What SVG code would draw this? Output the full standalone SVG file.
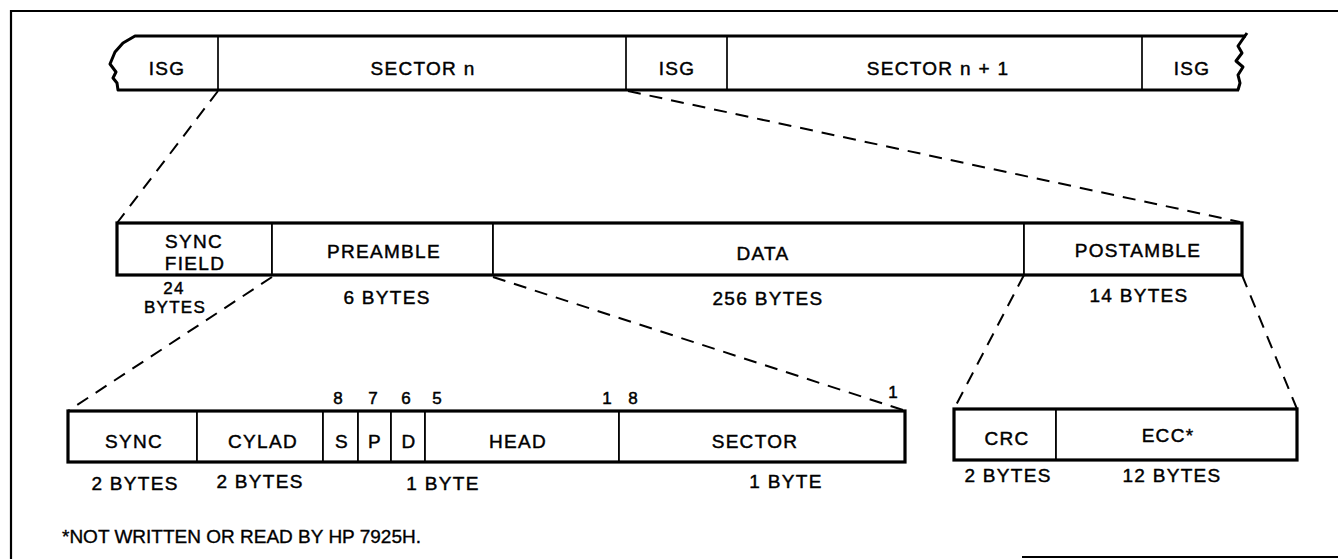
<svg xmlns="http://www.w3.org/2000/svg" width="1338" height="559" viewBox="0 0 1338 559">
<style>
.bg{fill:#fff}
.frame{fill:none;stroke:#000;stroke-width:2.2}
.cell{fill:#fff;stroke:#000;stroke-width:1.7}
.bar{fill:none;stroke:#000;stroke-width:3.2;stroke-linejoin:miter}
.wave{fill:none;stroke:#000;stroke-width:3;stroke-linejoin:round}
.t{font-family:"Liberation Sans",Arial,Helvetica,sans-serif;font-size:19px;letter-spacing:1.3px;fill:#000;stroke:#000;stroke-width:0.45;text-anchor:middle}
.s{font-size:17px}
.n{font-family:"Liberation Sans",Arial,Helvetica,sans-serif;font-size:17px;fill:#000;stroke:#000;stroke-width:0.5;text-anchor:middle}
.fn{font-family:"Liberation Sans",Arial,Helvetica,sans-serif;font-size:19px;fill:#000;stroke:#000;stroke-width:0.35}
.dash{fill:none;stroke:#000;stroke-width:2;stroke-dasharray:13 9}
</style>
<rect class="bg" x="0" y="0" width="1338" height="559"/>
<g id="frame">
<polyline class="frame" points="11,559 11,11 1338,11"/>
<line class="frame" x1="1022" y1="557" x2="1338" y2="557"/>
</g>

<g id="connectors">
<line class="dash" x1="218" y1="91" x2="117" y2="223"/>
<line class="dash" x1="628" y1="91" x2="1240" y2="222"/>
<line class="dash" x1="272" y1="277" x2="68" y2="411"/>
<line class="dash" x1="493" y1="277" x2="903" y2="410"/>
<line class="dash" x1="1024" y1="275" x2="954" y2="409"/>
<line class="dash" x1="1242" y1="275" x2="1297" y2="409"/>
</g>

<!-- Top track -->
<g id="track">
<path class="bg" d="M135,36 L1246,36 L1238,46 L1242,53 L1236,61 L1243,67 L1238,75 L1240,83 L1239,90 L118,90 L117,83 L113,78 L116,72 L110,64 L115,52 L123,43 Z"/>
<g id="isg1"><text class="t" x="167" y="75">ISG</text></g>
<g id="sector-n"><line class="cell" x1="218" y1="36" x2="218" y2="90"/><text class="t" x="423" y="75">SECTOR n</text></g>
<g id="isg2"><line class="cell" x1="626" y1="36" x2="626" y2="90"/><text class="t" x="677" y="75">ISG</text></g>
<g id="sector-n1"><line class="cell" x1="727" y1="36" x2="727" y2="90"/><text class="t" x="938" y="75">SECTOR n + 1</text></g>
<g id="isg3"><line class="cell" x1="1142" y1="36" x2="1142" y2="90"/><text class="t" x="1192" y="75">ISG</text></g>
<path class="wave" d="M1239,90 L118,90 L117,83 L113,78 L116,72 L110,64 L115,52 L123,43 L135,36 L1246,36"/>
<path class="wave" d="M1247,33 L1238,46 L1242,53 L1236,61 L1243,67 L1238,75 L1240,83 L1238,90"/>
</g>

<!-- Sector record -->
<g id="sector-record">
<g id="sync-field"><rect class="cell" x="117" y="223" width="155" height="52"/><text class="t" x="194" y="248">SYNC</text><text class="t" x="195" y="270">FIELD</text><text class="t s" x="174" y="294">24</text><text class="t s" x="175" y="313">BYTES</text></g>
<g id="preamble"><rect class="cell" x="272" y="223" width="221" height="52"/><text class="t" x="384" y="258">PREAMBLE</text><text class="t" x="387" y="304">6 BYTES</text></g>
<g id="data"><rect class="cell" x="493" y="223" width="531" height="52"/><text class="t" x="763" y="260">DATA</text><text class="t" x="768" y="305">256 BYTES</text></g>
<g id="postamble"><rect class="cell" x="1024" y="223" width="218" height="52"/><text class="t" x="1138" y="257">POSTAMBLE</text><text class="t" x="1139" y="302">14 BYTES</text></g>
<rect class="bar" x="117" y="223" width="1125" height="52"/>
</g>

<!-- Preamble detail -->
<g id="preamble-detail">
<g id="sync"><rect class="cell" x="68" y="411" width="129" height="51"/><text class="t" x="134" y="448">SYNC</text><text class="t" x="135" y="490">2 BYTES</text></g>
<g id="cylad"><rect class="cell" x="197" y="411" width="126" height="51"/><text class="t" x="263" y="448">CYLAD</text><text class="t" x="260" y="488">2 BYTES</text></g>
<g id="s-bit"><rect class="cell" x="323" y="411" width="35" height="51"/><text class="t" x="342" y="448">S</text><text class="n" x="338" y="404">8</text></g>
<g id="p-bit"><rect class="cell" x="358" y="411" width="33" height="51"/><text class="t" x="375" y="448">P</text><text class="n" x="373" y="404">7</text></g>
<g id="d-bit"><rect class="cell" x="391" y="411" width="34" height="51"/><text class="t" x="409" y="448">D</text><text class="n" x="406" y="404">6</text></g>
<g id="head"><rect class="cell" x="425" y="411" width="194" height="51"/><text class="t" x="518" y="448">HEAD</text><text class="n" x="437" y="404">5</text><text class="n" x="607" y="404">1</text><text class="t" x="443" y="490">1 BYTE</text></g>
<g id="sector"><rect class="cell" x="619" y="411" width="286" height="51"/><text class="t" x="755" y="448">SECTOR</text><text class="n" x="633" y="404">8</text><text class="n" x="893" y="398">1</text><text class="t" x="786" y="488">1 BYTE</text></g>
<rect class="bar" x="68" y="411" width="837" height="51"/>
</g>

<!-- Postamble detail -->
<g id="postamble-detail">
<g id="crc"><rect class="cell" x="954" y="409" width="102" height="51"/><text class="t" x="1007" y="445">CRC</text><text class="t" x="1008" y="482">2 BYTES</text></g>
<g id="ecc"><rect class="cell" x="1056" y="409" width="241" height="51"/><text class="t" x="1168" y="442">ECC*</text><text class="t" x="1172" y="482">12 BYTES</text></g>
<rect class="bar" x="954" y="409" width="343" height="51"/>
</g>

<g id="footnote"><text class="fn" x="62" y="543">*NOT WRITTEN OR READ BY HP 7925H.</text></g>
</svg>
